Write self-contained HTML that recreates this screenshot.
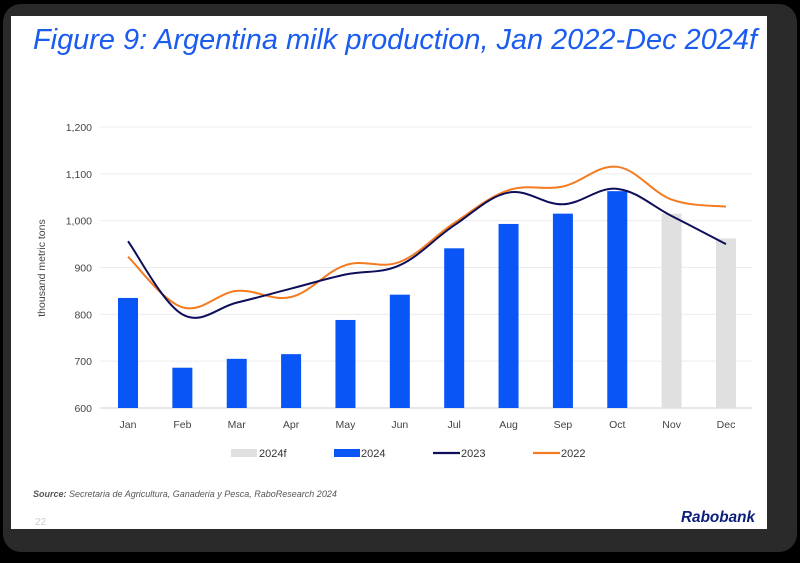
<!DOCTYPE html>
<html><head><meta charset="utf-8">
<style>
html,body{margin:0;padding:0;background:#1c1c1c;}
svg{display:block;font-family:"Liberation Sans",sans-serif;}
</style></head>
<body>
<svg id="chart" width="800" height="563" viewBox="0 0 800 563">
  <rect x="0" y="0" width="800" height="563" fill="#000"/>
  <rect x="3" y="4" width="794" height="548" rx="18" fill="#2a2a2a"/>
  <rect x="11" y="16" width="756" height="513" fill="#ffffff"/>
  <text x="33" y="49" font-size="29" font-style="italic" fill="#1a5cf0" textLength="724" lengthAdjust="spacingAndGlyphs">Figure 9: Argentina milk production, Jan 2022-Dec 2024f</text>
  <g id="grid"></g>
  <g id="bars"></g>
  <g id="lines"></g>
  <g id="axes"></g>
  <text transform="translate(45,268) rotate(-90)" text-anchor="middle" font-size="10.5" fill="#444">thousand metric tons</text>
  <g>
    <g><rect x="231" y="449" width="26" height="8" fill="#e0e0e0"/><text x="259" y="457" font-size="11" fill="#333">2024f</text></g>
    <g><rect x="334" y="449" width="26" height="8" fill="#0a55f5"/><text x="361" y="457" font-size="11" fill="#333">2024</text></g>
    <g><line x1="433" y1="453" x2="460" y2="453" stroke="#0e0e5a" stroke-width="2.2"/><text x="461" y="457" font-size="11" fill="#333">2023</text></g>
    <g><line x1="533" y1="453" x2="560" y2="453" stroke="#f47b20" stroke-width="2.2"/><text x="561" y="457" font-size="11" fill="#333">2022</text></g>
  </g>
  <text x="33" y="497" font-size="9" font-style="italic" fill="#555"><tspan font-weight="bold">Source:</tspan> Secretaria de Agricultura, Ganaderia y Pesca, RaboResearch 2024</text>
  <text x="35" y="525" font-size="10" fill="#ccc">22</text>
  <text x="755" y="522" text-anchor="end" font-size="16" font-weight="bold" font-style="italic" fill="#0b1e7a" textLength="74" lengthAdjust="spacingAndGlyphs">Rabobank</text>
</svg>
<script>
const months = ["Jan","Feb","Mar","Apr","May","Jun","Jul","Aug","Sep","Oct","Nov","Dec"];
const v2024 = [835,686,705,715,788,842,941,993,1015,1063,null,null];
const v2024f = [null,null,null,null,null,null,null,null,null,null,1015,962];
const v2023 = [956,800,825,855,885,905,990,1060,1035,1068,1010,950];
const v2022 = [923,815,850,837,905,912,995,1065,1073,1115,1045,1030];
const yTicks = [600,700,800,900,1000,1100,1200];
const yTickLabels = ["600","700","800","900","1,000","1,100","1,200"];

const NS = "http://www.w3.org/2000/svg";
const yMin = 600, yMax = 1200, yTop = 127, yBot = 408;
const xFirst = 128, xLast = 726;
function yScale(v){ return yBot - (v - yMin) / (yMax - yMin) * (yBot - yTop); }
function xScale(i){ return xFirst + i * (xLast - xFirst) / (months.length - 1); }
function mk(tag, attrs, parent){ const e = document.createElementNS(NS, tag); for (const k in attrs) e.setAttribute(k, attrs[k]); parent.appendChild(e); return e; }

const grid = document.getElementById('grid');
const axes = document.getElementById('axes');
yTicks.forEach((t, i) => {
  const l = mk('line', {x1: 100, x2: 752, y1: yScale(t), y2: yScale(t), stroke: i === 0 ? '#d0d0d0' : '#ececec', 'stroke-width': 1}, grid);
  
  
  const tx = mk('text', {x: 92, y: yScale(t) + 4, 'text-anchor': 'end', 'font-size': 10.5, fill: '#444'}, axes);
  tx.textContent = yTickLabels[i];
  
  
});
months.forEach((m, i) => {
  const tx = mk('text', {x: xScale(i), y: 428, 'text-anchor': 'middle', 'font-size': 10.5, fill: '#444'}, axes);
  tx.textContent = m;
  
  
});

const bars = document.getElementById('bars');
const bw = 20;
function drawBars(arr, color, name){
  arr.forEach((v, i) => {
    if (v == null) return;
    const r = mk('rect', {x: xScale(i) - bw/2, y: yScale(v), width: bw, height: yBot - yScale(v), fill: color}, bars);
    
    
  });
}
drawBars(v2024f, '#e0e0e0', 'bar-2024f');
drawBars(v2024, '#0a55f5', 'bar-2024');

const lines = document.getElementById('lines');
function smoothPath(arr){
  const p = arr.map((v, i) => [xScale(i), yScale(v)]);
  let d = 'M' + p[0][0] + ',' + p[0][1];
  for (let i = 0; i < p.length - 1; i++) {
    const p0 = p[Math.max(0, i-1)], p1 = p[i], p2 = p[i+1], p3 = p[Math.min(p.length-1, i+2)];
    const t = 0.18;
    const c1 = [p1[0] + (p2[0]-p0[0])*t, p1[1] + (p2[1]-p0[1])*t];
    const c2 = [p2[0] - (p3[0]-p1[0])*t, p2[1] - (p3[1]-p1[1])*t];
    d += ' C' + c1.join(',') + ' ' + c2.join(',') + ' ' + p2.join(',');
  }
  return d;
}
const l2022 = mk('path', {d: smoothPath(v2022), fill: 'none', stroke: '#f47b20', 'stroke-width': 2}, lines);


const l2023 = mk('path', {d: smoothPath(v2023), fill: 'none', stroke: '#0e0e5a', 'stroke-width': 2}, lines);


</script>
</body></html>
